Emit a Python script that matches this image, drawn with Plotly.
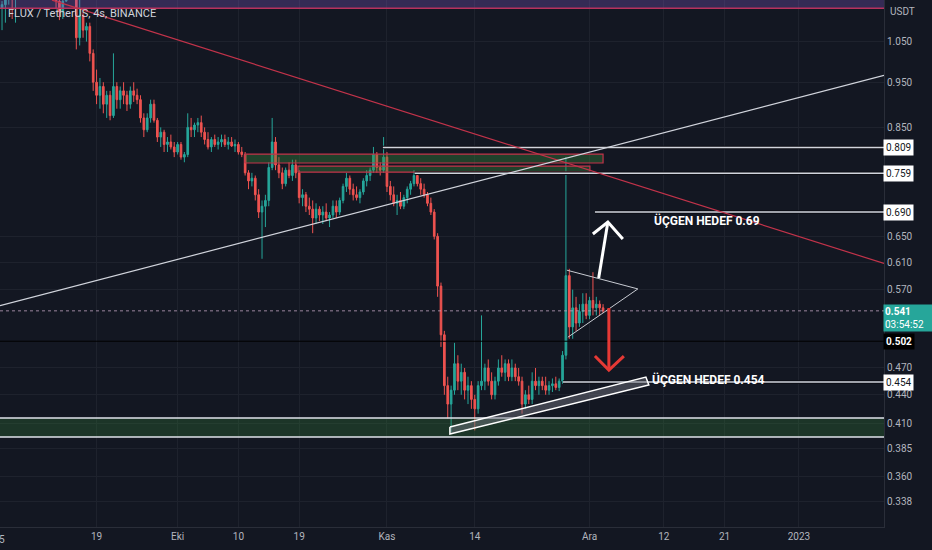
import numpy as np
import pandas as pd
import plotly.graph_objects as go

# 12h candles, FLUX/USDT
candle_start = "2022-09-04 12:00"
opens = [
    1.17, 1.14, 1.15, 1.18, 1.20, 1.19, 1.22, 1.24, 1.23, 1.25,
    1.24, 1.22, 1.23, 1.21, 1.22, 1.20, 1.21, 1.19, 1.16, 1.13,
    1.16, 1.19, 1.21, 1.18, 1.06, 1.12, 1.08, 1.09, 1.02, 0.95,
    0.92, 0.94, 0.90, 0.92, 0.875, 0.94, 0.91, 0.93, 0.92, 0.90,
    0.93, 0.92, 0.91, 0.87, 0.845, 0.87, 0.90, 0.865, 0.83, 0.84,
    0.815, 0.82, 0.81, 0.80, 0.815, 0.79, 0.795, 0.85, 0.845, 0.855,
    0.86, 0.84, 0.825, 0.81, 0.825, 0.815, 0.82, 0.825, 0.815, 0.82,
    0.812, 0.815, 0.80, 0.795, 0.76, 0.745, 0.75, 0.72, 0.69, 0.70,
    0.71, 0.77, 0.82, 0.775, 0.76, 0.74, 0.765, 0.755, 0.775, 0.76,
    0.715, 0.72, 0.70, 0.695, 0.68, 0.695, 0.685, 0.69, 0.68, 0.685,
    0.70, 0.69, 0.71, 0.735, 0.75, 0.73, 0.72, 0.715, 0.725, 0.745,
    0.755, 0.765, 0.795, 0.77, 0.765, 0.79, 0.735, 0.72, 0.705, 0.71,
    0.70, 0.715, 0.73, 0.74, 0.755, 0.74, 0.73, 0.72, 0.705, 0.69,
    0.65, 0.575, 0.51, 0.45, 0.43, 0.445, 0.475, 0.455, 0.465, 0.445,
    0.45, 0.435, 0.425, 0.45, 0.455, 0.47, 0.455, 0.44, 0.455, 0.47,
    0.465, 0.475, 0.46, 0.47, 0.46, 0.455, 0.43, 0.44, 0.435, 0.455,
    0.45, 0.455, 0.45, 0.445, 0.45, 0.452, 0.448, 0.455, 0.485, 0.59,
    0.52, 0.545, 0.525, 0.54, 0.55, 0.535, 0.555, 0.545, 0.55, 0.545,
]
highs = [
    1.20, 1.16, 1.19, 1.22, 1.23, 1.24, 1.26, 1.28, 1.27, 1.29,
    1.27, 1.25, 1.26, 1.24, 1.25, 1.23, 1.24, 1.22, 1.19, 1.17,
    1.21, 1.23, 1.24, 1.20, 1.17, 1.13, 1.10, 1.10, 1.03, 0.98,
    0.96, 0.95, 0.93, 0.93, 1.02, 0.95, 0.94, 0.95, 0.93, 0.94,
    0.95, 0.935, 0.92, 0.88, 0.88, 0.91, 0.91, 0.87, 0.85, 0.845,
    0.83, 0.835, 0.82, 0.82, 0.82, 0.80, 0.88, 0.87, 0.86, 0.87,
    0.875, 0.85, 0.84, 0.83, 0.835, 0.83, 0.835, 0.835, 0.83, 0.83,
    0.825, 0.82, 0.81, 0.80, 0.765, 0.76, 0.755, 0.73, 0.71, 0.72,
    0.78, 0.87, 0.83, 0.79, 0.77, 0.77, 0.78, 0.785, 0.785, 0.765,
    0.73, 0.725, 0.715, 0.71, 0.705, 0.70, 0.70, 0.705, 0.69, 0.71,
    0.71, 0.715, 0.74, 0.76, 0.755, 0.74, 0.735, 0.73, 0.75, 0.765,
    0.77, 0.81, 0.80, 0.78, 0.83, 0.80, 0.745, 0.735, 0.72, 0.725,
    0.72, 0.735, 0.745, 0.765, 0.76, 0.75, 0.74, 0.725, 0.715, 0.695,
    0.655, 0.58, 0.515, 0.46, 0.45, 0.50, 0.485, 0.475, 0.47, 0.46,
    0.455, 0.44, 0.455, 0.535, 0.475, 0.48, 0.465, 0.46, 0.48, 0.485,
    0.48, 0.48, 0.48, 0.475, 0.47, 0.46, 0.445, 0.45, 0.465, 0.47,
    0.46, 0.46, 0.46, 0.455, 0.458, 0.46, 0.458, 0.49, 0.79, 0.60,
    0.57, 0.56, 0.55, 0.565, 0.565, 0.56, 0.595, 0.56, 0.555, 0.55,
]
lows = [
    1.12, 1.08, 1.10, 1.15, 1.11, 1.10, 1.19, 1.21, 1.20, 1.22,
    1.20, 1.19, 1.20, 1.18, 1.19, 1.18, 1.18, 1.14, 1.107, 1.11,
    1.158, 1.17, 1.17, 1.03, 1.04, 1.06, 1.05, 1.00, 0.93, 0.90,
    0.89, 0.88, 0.87, 0.865, 0.87, 0.89, 0.89, 0.90, 0.885, 0.89,
    0.905, 0.90, 0.86, 0.83, 0.84, 0.86, 0.86, 0.82, 0.81, 0.80,
    0.80, 0.805, 0.79, 0.795, 0.785, 0.78, 0.79, 0.83, 0.83, 0.84,
    0.83, 0.815, 0.805, 0.80, 0.81, 0.805, 0.81, 0.81, 0.805, 0.81,
    0.80, 0.795, 0.79, 0.755, 0.73, 0.735, 0.71, 0.68, 0.615, 0.665,
    0.70, 0.765, 0.765, 0.75, 0.73, 0.735, 0.75, 0.745, 0.75, 0.705,
    0.70, 0.69, 0.685, 0.655, 0.67, 0.675, 0.67, 0.675, 0.665, 0.68,
    0.68, 0.685, 0.705, 0.725, 0.72, 0.71, 0.71, 0.705, 0.72, 0.735,
    0.745, 0.76, 0.76, 0.755, 0.76, 0.725, 0.71, 0.70, 0.685, 0.695,
    0.695, 0.705, 0.72, 0.735, 0.735, 0.72, 0.715, 0.70, 0.685, 0.645,
    0.56, 0.495, 0.44, 0.415, 0.401, 0.44, 0.445, 0.44, 0.435, 0.43,
    0.425, 0.403, 0.42, 0.445, 0.445, 0.45, 0.435, 0.435, 0.45, 0.46,
    0.455, 0.455, 0.455, 0.455, 0.45, 0.42, 0.425, 0.43, 0.43, 0.445,
    0.44, 0.445, 0.44, 0.44, 0.443, 0.445, 0.444, 0.452, 0.48, 0.505,
    0.505, 0.515, 0.52, 0.525, 0.53, 0.53, 0.535, 0.535, 0.535, 0.538,
]
closes = [
    1.14, 1.15, 1.18, 1.20, 1.19, 1.22, 1.24, 1.23, 1.25, 1.24,
    1.22, 1.23, 1.21, 1.22, 1.20, 1.21, 1.19, 1.16, 1.13, 1.16,
    1.19, 1.21, 1.18, 1.06, 1.12, 1.08, 1.09, 1.02, 0.95, 0.92,
    0.94, 0.90, 0.92, 0.875, 0.94, 0.91, 0.93, 0.92, 0.90, 0.93,
    0.92, 0.91, 0.87, 0.845, 0.87, 0.90, 0.865, 0.83, 0.84, 0.815,
    0.82, 0.81, 0.80, 0.815, 0.79, 0.795, 0.85, 0.845, 0.855, 0.86,
    0.84, 0.825, 0.81, 0.825, 0.815, 0.82, 0.825, 0.815, 0.82, 0.812,
    0.815, 0.80, 0.795, 0.76, 0.745, 0.75, 0.72, 0.69, 0.70, 0.71,
    0.77, 0.82, 0.775, 0.76, 0.74, 0.765, 0.755, 0.775, 0.76, 0.715,
    0.72, 0.70, 0.695, 0.68, 0.695, 0.685, 0.69, 0.68, 0.685, 0.70,
    0.69, 0.71, 0.735, 0.75, 0.73, 0.72, 0.715, 0.725, 0.745, 0.755,
    0.765, 0.795, 0.77, 0.765, 0.79, 0.735, 0.72, 0.705, 0.71, 0.70,
    0.715, 0.73, 0.74, 0.755, 0.74, 0.73, 0.72, 0.705, 0.69, 0.65,
    0.575, 0.51, 0.45, 0.43, 0.445, 0.475, 0.455, 0.465, 0.445, 0.45,
    0.435, 0.425, 0.45, 0.455, 0.47, 0.455, 0.44, 0.455, 0.47, 0.465,
    0.475, 0.46, 0.47, 0.46, 0.455, 0.43, 0.44, 0.435, 0.455, 0.45,
    0.455, 0.45, 0.445, 0.45, 0.452, 0.448, 0.455, 0.485, 0.59, 0.52,
    0.545, 0.525, 0.54, 0.55, 0.535, 0.555, 0.545, 0.55, 0.545, 0.541,
]

# axis labels
price_ticks = [1.050, 0.950, 0.850, 0.650, 0.610, 0.570, 0.470, 0.440, 0.410, 0.385, 0.360, 0.338]
date_ticks = ["2022-09-05", "2022-09-19", "2022-10-01", "2022-10-10", "2022-10-19", "2022-11-01",
              "2022-11-14", "2022-12-01", "2022-12-12", "2022-12-21", "2023-01-01"]
date_labels = ["5", "19", "Eki", "10", "19", "Kas", "14", "Ara", "12", "21", "2023"]

# drawings: positions as days after 2022-09-05 and prices
view_days = [-0.3, 130.6]
view_prices = [0.3177, 1.1632]
red_trend_days, red_trend_prices = [7.4, 130.6], [1.163, 0.608]
white_trend_days, white_trend_prices = [-0.3, 130.6], [0.548, 0.966]
ray_prices = [0.809, 0.759, 0.690, 0.454]
ray_start_days = [56.4, 61.1, 87.8, 83.05]
box1_days, box1_prices = [35.97, 89.0], [0.7786, 0.796]
box2_days, box2_prices = [43.82, 87.05], [0.7613, 0.7727]
support_prices = [0.3965, 0.4155]
top_band_prices = [1.140, 1.30]
triangle_days, triangle_prices = [83.64, 94.15, 83.79], [0.598, 0.571, 0.507]
channel_days = [66.32, 95.34, 95.78, 66.32, 66.32]
channel_prices = [0.4064, 0.4596, 0.4506, 0.3994, 0.4064]
up_shaft_days, up_shaft_prices = [88.35, 89.71], [0.5865, 0.6733]
up_head_days, up_head_prices = [87.49, 89.71, 91.93], [0.6537, 0.6733, 0.6457]
down_shaft_days, down_shaft_prices = [89.86, 89.86], [0.5448, 0.4676]
down_head_days, down_head_prices = [87.79, 89.86, 92.08], [0.484, 0.4676, 0.484]
last_price = 0.541
prev_close_line = 0.502

BG = "#131722"
GRID = "#1e222d"
TXT = "#b2b5be"
UP = "#26a69a"
DOWN = "#ef5350"
FONT = "Roboto"

BASE = pd.Timestamp("2022-09-05")


def day(d):
    return [BASE + pd.Timedelta(days=v) for v in d]


times = pd.date_range(candle_start, periods=len(closes), freq="12h")

fig = go.Figure()
fig.add_trace(go.Candlestick(
    x=times, open=opens, high=highs, low=lows, close=closes,
    increasing=dict(line=dict(color=UP, width=1), fillcolor=UP),
    decreasing=dict(line=dict(color=DOWN, width=1), fillcolor=DOWN),
    whiskerwidth=0, hoverinfo="skip", showlegend=False))


def line(days, prices, color, width=1, dash="solid", fill=None, fillcolor=None):
    fig.add_trace(go.Scatter(x=day(days), y=prices, mode="lines",
                             line=dict(color=color, width=width, dash=dash),
                             fill=fill, fillcolor=fillcolor,
                             hoverinfo="skip", showlegend=False))


full = view_days
# purple band at the top
line([full[0], full[1], full[1], full[0], full[0]],
     [top_band_prices[0], top_band_prices[0], top_band_prices[1], top_band_prices[1], top_band_prices[0]],
     "rgba(0,0,0,0)", fill="toself", fillcolor="rgba(126,87,194,0.32)")
line(full, [top_band_prices[0]] * 2, "#b8325e", 1.5)

# support zone
line([full[0], full[1], full[1], full[0], full[0]],
     [support_prices[0], support_prices[0], support_prices[1], support_prices[1], support_prices[0]],
     "rgba(0,0,0,0)", fill="toself", fillcolor="rgba(56,142,60,0.25)")
line(full, [support_prices[0]] * 2, "#e0e3eb", 1.5)
line(full, [support_prices[1]] * 2, "#e0e3eb", 1.5)

# resistance boxes
for bd, bp in [(box1_days, box1_prices), (box2_days, box2_prices)]:
    line([bd[0], bd[1], bd[1], bd[0], bd[0]], [bp[0], bp[0], bp[1], bp[1], bp[0]],
         "#c2334a", 1.2, fill="toself", fillcolor="rgba(56,142,60,0.35)")

# horizontal rays
for p, d0 in zip(ray_prices, ray_start_days):
    line([d0, full[1]], [p, p], "#0c0e15", 3.5)
    line([d0, full[1]], [p, p], "#d1d4dc", 1.5)

line(full, [prev_close_line] * 2, "#000000", 1)
line(full, [last_price] * 2, "rgba(190,160,190,0.8)", 1, "dot")

# trend lines
line(red_trend_days, red_trend_prices, "#c2334a", 1.2)
line(white_trend_days, white_trend_prices, "#d1d4dc", 1.2)

# triangle and channel
line(triangle_days, triangle_prices, "#c8cbd2", 1)
line(channel_days, channel_prices, "#ffffff", 1.5, fill="toself", fillcolor="rgba(120,123,134,0.45)")

# arrows
line(up_shaft_days, up_shaft_prices, "#ffffff", 3)
line(up_head_days, up_head_prices, "#ffffff", 3)
line(down_shaft_days, down_shaft_prices, "#e53935", 3)
line(down_head_days, down_head_prices, "#e53935", 3)

ann = []
ann.append(dict(x=day([96.2])[0], y=np.log10(0.675), xref="x", yref="y", text="<b>ÜÇGEN HEDEF 0.69</b>",
                showarrow=False, xanchor="left", yanchor="middle",
                font=dict(family=FONT, size=12, color="#ffffff")))
ann.append(dict(x=day([95.93])[0], y=np.log10(0.457), xref="x", yref="y", text="<b>ÜÇGEN HEDEF 0.454</b>",
                showarrow=False, xanchor="left", yanchor="middle",
                font=dict(family=FONT, size=12, color="#ffffff")))
ann.append(dict(x=0, y=1, xref="paper", yref="paper", text="FLUX / TetherUS, 4s, BINANCE",
                showarrow=False, xanchor="left", yanchor="top", xshift=6, yshift=-5,
                font=dict(family=FONT, size=11, color="#d1d4dc")))
ann.append(dict(x=1, y=1, xref="paper", yref="paper", text="USDT",
                showarrow=False, xanchor="left", yanchor="top", xshift=4, yshift=-4,
                font=dict(family=FONT, size=10, color=TXT)))
# first date label sits half outside the plot
ann.append(dict(x=0, y=0, xref="paper", yref="paper", text=date_labels[0],
                showarrow=False, xanchor="center", yanchor="top", xshift=2, yshift=-5,
                font=dict(family=FONT, size=10, color=TXT)))

for p in ray_prices:
    ann.append(dict(x=1, y=np.log10(p), xref="paper", yref="y", text=f"{p:.3f}",
                    showarrow=False, xanchor="left", yanchor="middle", xshift=-1,
                    bgcolor="#ffffff", borderpad=2, font=dict(family=FONT, size=10, color="#131722")))
ann.append(dict(x=1, y=np.log10(prev_close_line), xref="paper", yref="y", text=f"<b>{prev_close_line:.3f}</b>",
                showarrow=False, xanchor="left", yanchor="middle", xshift=-1,
                bgcolor="#000000", borderpad=2, font=dict(family=FONT, size=10, color="#ffffff")))
ann.append(dict(x=1, y=np.log10(last_price), xref="paper", yref="y", text=f"<b>{last_price:.3f}</b><br>03:54:52",
                showarrow=False, xanchor="left", yanchor="top", xshift=-1, yshift=7, align="left",
                bgcolor=UP, borderpad=1, width=48, font=dict(family=FONT, size=10, color="#ffffff")))

fig.update_layout(
    width=932, height=550,
    margin=dict(l=0, r=48, t=0, b=23),
    paper_bgcolor=BG, plot_bgcolor=BG,
    showlegend=False, hovermode=False,
    annotations=ann,
    font=dict(family=FONT, color=TXT, size=10),
)
fig.update_xaxes(
    type="date", range=day(view_days), rangeslider_visible=False,
    tickvals=date_ticks[1:], ticktext=date_labels[1:], tickfont=dict(size=10, color=TXT),
    showgrid=True, gridcolor=GRID, zeroline=False,
    showline=True, linecolor="#2a2e39", ticks="",
)
fig.update_yaxes(
    type="log", range=[np.log10(view_prices[0]), np.log10(view_prices[1])], side="right",
    tickvals=price_ticks, ticktext=[f"{p:.3f}" for p in price_ticks], tickfont=dict(size=10, color=TXT),
    showgrid=True, gridcolor=GRID, zeroline=False,
    showline=True, linecolor="#2a2e39", ticks="",
)

fig.write_html("out.html", config={"displayModeBar": False},
               post_script="document.body.style.margin='0';document.body.style.background='#131722';")
